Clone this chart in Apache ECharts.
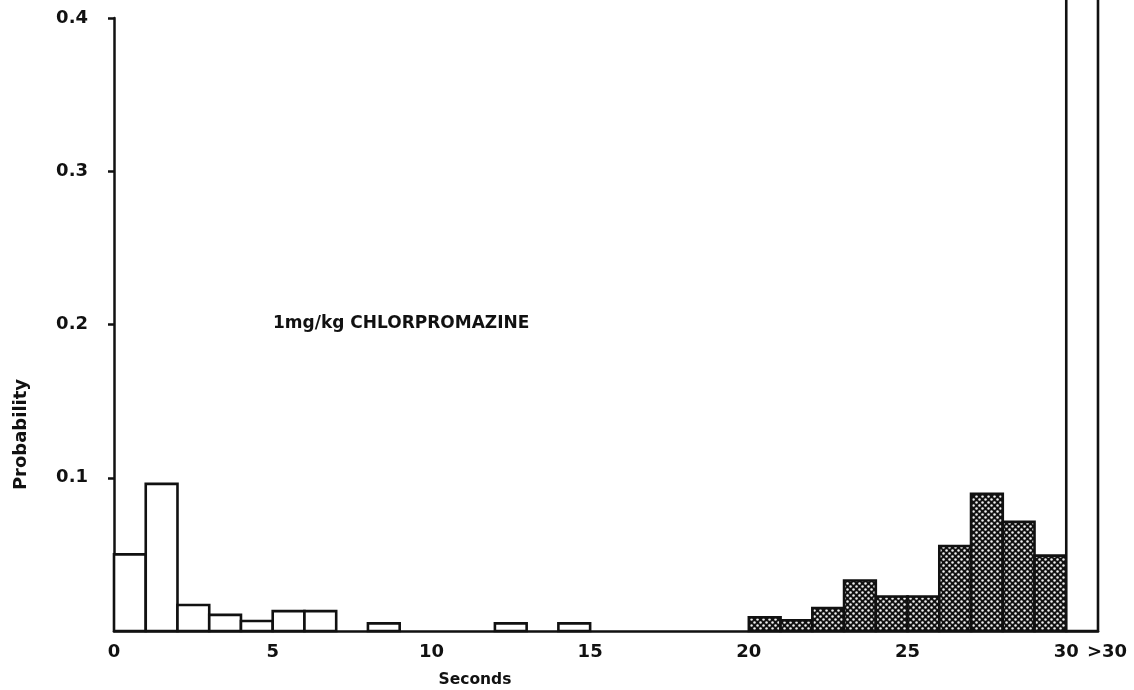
<!DOCTYPE html>
<html>
<head>
<meta charset="utf-8">
<script src="https://cdn.jsdelivr.net/npm/echarts@6/dist/echarts.min.js"></script>
<style>
html,body{margin:0;padding:0;background:#fff;}
#chart{width:1134px;height:690px;}
</style>
</head>
<body>
<div id="chart"></div>
<script>
// Bin start (seconds), each bin 1 s wide
const binStart = [0,1,2,3,4,5,6,7,8,9,10,11,12,13,14,15,16,17,18,19,20,21,22,23,24,25,26,27,28,29];
// Probability per bin
const probability = [0.050,0.096,0.017,0.0105,0.0065,0.013,0.013,0,0.005,0,0,0,0.005,0,0.005,0,0,0,0,0,0.009,0.007,0.015,0.033,0.0225,0.0225,0.0555,0.0895,0.0712,0.0492];
// Bins from this start onward are drawn hatched
const hatchedFromSecond = 20;
// Overflow bin (>30 s): drawn from 30 to 31, runs off the top of the chart
const overflowStart = 30;
const overflowProbability = 0.46;
const overflowLabel = '>30';
const xTickValues = [0,5,10,15,20,25,30,31];
const yTickValues = [0.1,0.2,0.3,0.4];
const yTickLabels = ['0.1','0.2','0.3','0.4'];
const annotation = '1mg/kg CHLORPROMAZINE';

// Hatch pattern: dark field with a diagonal grid of light dots
function makeHatch(){
  const c = document.createElement('canvas');
  c.width = 6; c.height = 6;
  const g = c.getContext('2d');
  g.fillStyle = '#111';
  g.fillRect(0,0,6,6);
  g.fillStyle = '#f0f0f0';
  g.beginPath(); g.arc(1.5,1.5,1.25,0,Math.PI*2); g.fill();
  g.beginPath(); g.arc(4.5,4.5,1.25,0,Math.PI*2); g.fill();
  return c;
}
const hatch = makeHatch();

const barData = binStart.map((s,i)=>[s, s+1, probability[i], s >= hatchedFromSecond ? 1 : 0]).filter(d=>d[2]>0);
barData.push([overflowStart, overflowStart+1, overflowProbability, 0]);

const font = '"DejaVu Sans", sans-serif';
const chart = echarts.init(document.getElementById('chart'));
chart.setOption({
  animation:false,
  backgroundColor:'#fff',
  title:{
    text: annotation,
    left: 273, top: 315, padding:0,
    textStyle:{fontFamily:font, fontWeight:'bold', fontSize:17, color:'#111'}
  },
  grid:{left:114, right:36, top:18, bottom:59, containLabel:false, outerBoundsMode:'none'},
  xAxis:{
    type:'value', min:0, max:31,
    name:'Seconds', nameLocation:'middle', nameGap:41,
    nameTextStyle:{fontFamily:font, fontWeight:'bold', fontSize:15.5, color:'#111', padding:[0,262,0,0]},
    axisLine:{show:true, onZero:false, lineStyle:{color:'#111', width:2.5}},
    axisTick:{show:false},
    splitLine:{show:false},
    axisLabel:{
      customValues: xTickValues,
      margin:12,
      fontFamily:font, fontWeight:'bold', fontSize:18, color:'#111',
      formatter:function(v){ return v===31 ? '{gt|' + overflowLabel + '}' : String(v); },
      rich:{gt:{fontFamily:font, fontWeight:'bold', fontSize:18, color:'#111', padding:[0,0,0,18]}}
    }
  },
  yAxis:{
    type:'value', min:0, max:0.4,
    name:'Probability', nameLocation:'middle', nameRotate:90, nameGap:84,
    nameTextStyle:{fontFamily:font, fontWeight:'bold', fontSize:18, color:'#111', padding:[0,220,0,0]},
    axisLine:{show:true, lineStyle:{color:'#111', width:2.5}},
    axisTick:{show:true, customValues: yTickValues, length:6, lineStyle:{color:'#111', width:2.5}},
    splitLine:{show:false},
    axisLabel:{
      customValues: yTickValues,
      margin:26,
      fontFamily:font, fontWeight:'bold', fontSize:18, color:'#111',
      formatter:function(v){ const i = yTickValues.indexOf(v); return i>=0 ? yTickLabels[i] : ''; }
    }
  },
  series:[{
    type:'custom',
    clip:false,
    data: barData,
    encode:{x:[0,1], y:2},
    renderItem:function(params, api){
      const x0 = api.value(0), x1 = api.value(1), v = api.value(2), h = api.value(3);
      const p0 = api.coord([x0, v]);
      const p1 = api.coord([x1, 0]);
      return {
        type:'rect',
        shape:{x:p0[0], y:p0[1], width:p1[0]-p0[0], height:p1[1]-p0[1]},
        style:{
          fill: h ? {image: hatch, repeat:'repeat'} : '#fff',
          stroke:'#111', lineWidth:2.6
        }
      };
    }
  }]
});
</script>
</body>
</html>
